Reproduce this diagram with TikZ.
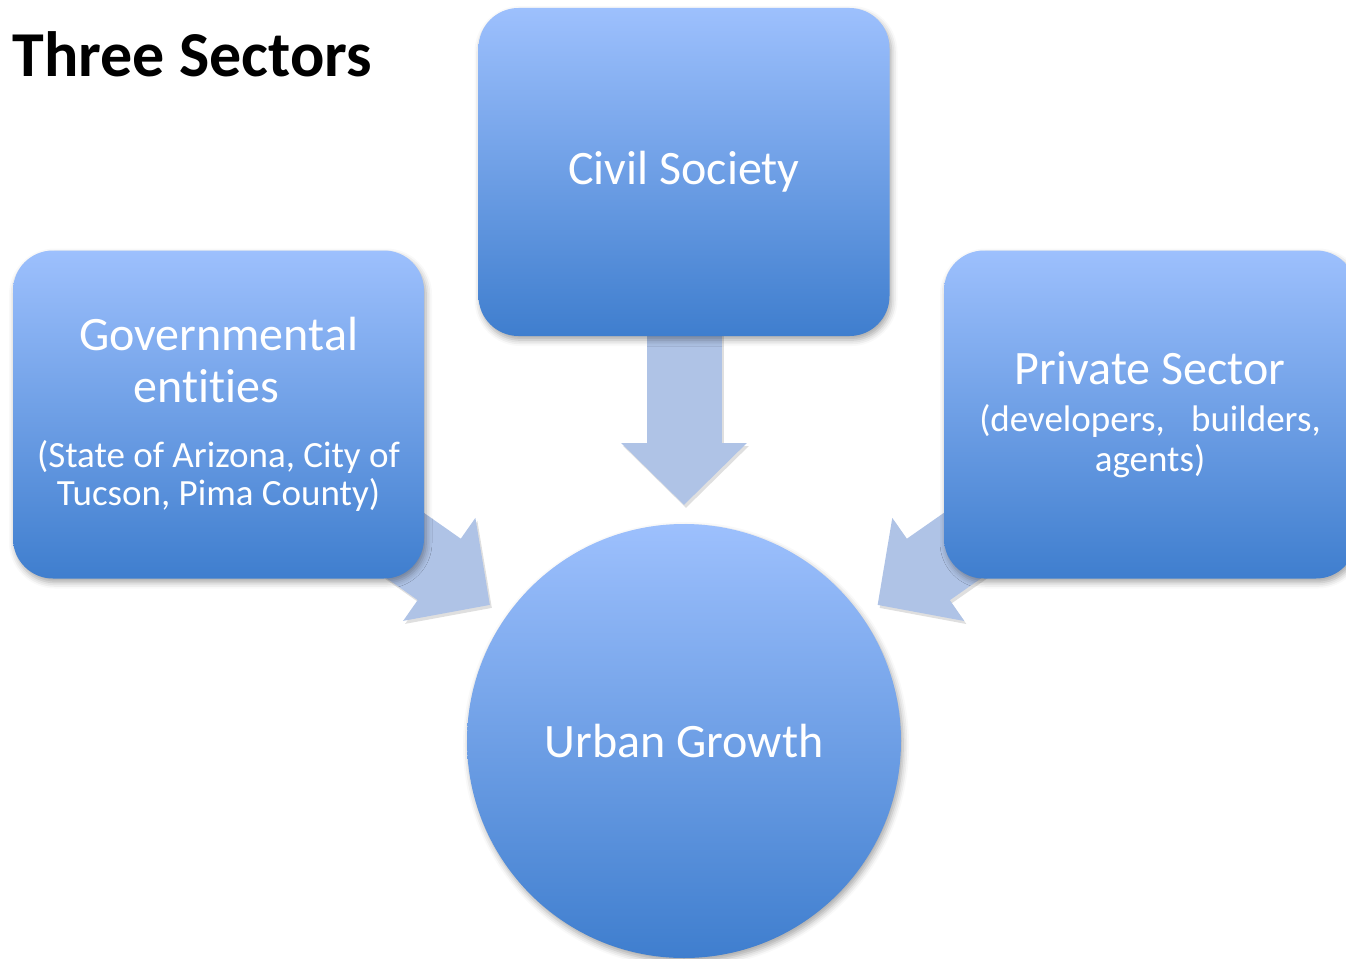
\documentclass[tikz,border=0pt]{standalone}
\usepackage{fontspec}
\setmainfont{Carlito}[Ligatures=NoCommon]
\usetikzlibrary{arrows.meta,shadows.blur,backgrounds}
\definecolor{boxtop}{HTML}{9DC0FD}
\definecolor{boxbot}{HTML}{3F7ECE}
\definecolor{arrowcol}{HTML}{AFC3E6}
\tikzset{
  sectorbox/.style={rectangle, rounded corners=40pt, minimum width=411pt, minimum height=328pt,
    top color=boxtop, bottom color=boxbot, draw=none, text=white, align=center,
    blur shadow={shadow xshift=2pt, shadow yshift=-4pt, shadow blur radius=6pt, shadow opacity=35}},
  hubcircle/.style={circle, minimum size=434pt, inner sep=0pt,
    top color=boxtop, bottom color=boxbot, draw=none, text=white,
    blur shadow={shadow xshift=2pt, shadow yshift=-4pt, shadow blur radius=6pt, shadow opacity=35}},
  bigtxt/.style={font=\fontsize{48}{52}\selectfont},
  blockarrow/.style={line width=75pt, draw=arrowcol, -{Triangle[length=62pt,width=122pt]}},
  arrowshadow/.style={line width=75pt, draw=black!70, opacity=0.18, -{Triangle[length=62pt,width=122pt]},
    transform canvas={shift={(2pt,-3pt)}}},
}
\newcommand{\smalltxt}{\fontsize{37}{40}\selectfont}
\begin{document}
\begin{tikzpicture}[x=1pt,y=-1pt]
\useasboundingbox (0,0) rectangle (1346,958);
\clip (0,0) rectangle (1346,958);

\node[anchor=base west, font=\fontsize{64}{70}\selectfont\bfseries] (title) at (9,77) {Three Sectors};

\node[sectorbox, bigtxt] (civ) at (684,172) {Civil Society};

\node[sectorbox, font=\fontsize{48}{52.4}\selectfont] (gov) at (218.5,414.5) {%
  Governmental\\
  entities\rule{24pt}{0pt}\\[12.6pt]
  \smalltxt (State of Arizona, City of\\[-14.5pt]
  \smalltxt Tucson, Pima County)};

\node[sectorbox, minimum width=412pt, font=\fontsize{48}{46.7}\selectfont] (priv) at (1150,414.5) {%
  Private Sector\\
  \smalltxt (developers,\hspace{18pt} builders,\\[-6.7pt]
  \smalltxt agents)};

\node[hubcircle, bigtxt] (urban) at (684,741) {Urban Growth};

\coordinate (tipC) at (684,505);
\coordinate (tipL) at (490,605);
\coordinate (tipR) at (877.5,605);

\begin{scope}[on background layer]
  \draw[arrowshadow] (civ.center) -- (tipC);
  \draw[arrowshadow] (gov.center) -- (tipL);
  \draw[arrowshadow] (priv.center) -- (tipR);
  \draw[blockarrow] (civ.center) -- (tipC);
  \draw[blockarrow] (gov.center) -- (tipL);
  \draw[blockarrow] (priv.center) -- (tipR);
\end{scope}
\end{tikzpicture}
\end{document}
